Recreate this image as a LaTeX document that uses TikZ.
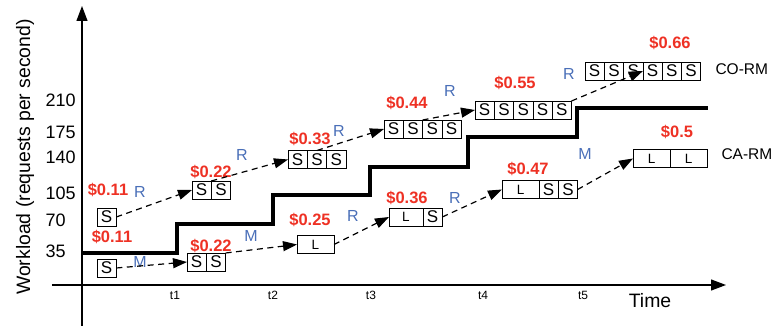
\documentclass[tikz,border=0pt]{standalone}
\usepackage{fontspec}
\setmainfont{Liberation Sans}
\usetikzlibrary{arrows.meta}

\begin{document}
\begin{tikzpicture}[x=1pt, y=1pt,
    scell/.style={draw=black, line width=0.7pt, minimum width=19.3pt, minimum height=18pt,
        inner sep=0pt, outer sep=0pt, anchor=west, font=\fontsize{17}{17}\selectfont},
    lcell/.style={scell, minimum width=37pt, font=\fontsize{13.5}{13.5}\selectfont},
    cost/.style={text=costRed, font=\bfseries\fontsize{16.5}{16.5}\selectfont},
    action/.style={text=actionBlue, font=\fontsize{16}{16}\selectfont},
    hop/.style={line width=1.2pt, dash pattern=on 6pt off 4.5pt, -{Triangle[length=14pt,width=10pt]}},
    axislabel/.style={font=\fontsize{19.4}{19.4}\selectfont},
    ticklabel/.style={font=\fontsize{18}{18}\selectfont, anchor=west},
    tlabel/.style={font=\fontsize{12}{12}\selectfont},
    rowlabel/.style={font=\fontsize{15.5}{15.5}\selectfont, anchor=west}]
    \definecolor{costRed}{HTML}{EE3124}
    \definecolor{actionBlue}{HTML}{4A6FB8}

    \def\cellW{19.3}

    \useasboundingbox (-82,-41) rectangle (692,285);

    % Draw axes
    \draw[line width=1.2pt, -{Triangle[length=15pt,width=11pt]}] (-30,0) -- (644,0);
    \draw[line width=1.2pt, -{Triangle[length=15pt,width=11pt]}] (0,-41) -- (0,279);

    % Label x-axis and y-axis
    \node[axislabel, rotate=90] (ylab) at (-57,128) {Workload (requests per second)};
    \node[axislabel] (xlab) at (568,-16) {Time};
    \foreach \y/\lbl in {34/35, 65/70, 92/105, 128/140, 153/175, 185/210}
        \node[ticklabel] (y\lbl) at (-40,\y) {\lbl};
    \foreach \x [count=\i] in {93,191,289,401,501}
        \node[tlabel] (t\i) at (\x,-10) {t\i};

    % Workload steps
    \draw[line width=3.5pt] (0,32) -| (95,61) -| (191,90) -| (288,118) -| (386,148) -| (495,177) -- (626,177);

    % CO-RM: small instances only
    \foreach \n/\x/\y/\k in {co1/15/68/1, co2/110/95/2, co3/206/125.5/3, co4/302/156/4, co5/393/175/5, co6/503/214/6}
        \foreach \i in {1,...,\k}
            \node[scell] (\n-\i) at ({\x+(\i-1)*\cellW},\y) {S};

    % CA-RM: mix of large and small instances
    \node[scell] (ca1-1) at (15,17) {S};
    \node[scell] (ca2-1) at (105,23) {S};
    \node[scell] (ca2-2) at (ca2-1.east) {S};
    \node[lcell] (ca3-1) at (215,40.5) {L};
    \node[lcell, minimum width=34pt] (ca4-1) at (307,68) {L};
    \node[scell] (ca4-2) at (ca4-1.east) {S};
    \node[lcell] (ca5-1) at (420,95.5) {L};
    \node[scell] (ca5-2) at (ca5-1.east) {S};
    \node[scell] (ca5-3) at (ca5-2.east) {S};
    \node[lcell] (ca6-1) at (551,126.5) {L};
    \node[lcell] (ca6-2) at (ca6-1.east) {L};

    \node[rowlabel] (corm) at (630,216) {CO-RM};
    \node[rowlabel] (carm) at (636,131) {CA-RM};

    % Costs
    \node[cost] (coc1) at (26,95) {\$0.11};
    \node[cost] (coc2) at (129,113) {\$0.22};
    \node[cost] (coc3) at (228,146) {\$0.33};
    \node[cost] (coc4) at (325,182) {\$0.44};
    \node[cost] (coc5) at (433,202) {\$0.55};
    \node[cost] (coc6) at (588,242) {\$0.66};
    \node[cost] (cac1) at (30,48) {\$0.11};
    \node[cost] (cac2) at (129,39) {\$0.22};
    \node[cost] (cac3) at (228,65) {\$0.25};
    \node[cost] (cac4) at (325,87) {\$0.36};
    \node[cost] (cac5) at (446,116) {\$0.47};
    \node[cost] (cac6) at (595,153) {\$0.5};

    % Scaling actions (R = replicate, M = migrate)
    \node[action] (coa1) at (58,93) {R};
    \node[action] (coa2) at (160,130) {R};
    \node[action] (coa3) at (257,154) {R};
    \node[action] (coa4) at (368,194) {R};
    \node[action] (coa5) at (487,211) {R};
    \node[action] (caa1) at (58,23) {M};
    \node[action] (caa2) at (169,49) {M};
    \node[action] (caa3) at (271,69) {R};
    \node[action] (caa4) at (373,87) {R};
    \node[action] (caa5) at (503,131) {M};

    % Transitions
    \draw[hop] (co1-1.east) -- (co2-1.west);
    \draw[hop] (co2-1.north east) -- (co3-1.west);
    \draw[hop] (co3-2.north) -- (co4-1.west);
    \draw[hop] (co4-2.north east) -- (co5-1.west);
    \draw[hop] (co5-5.north east) -- (co6-3.east);
    \draw[hop] (ca1-1.east) -- (ca2-1.west);
    \draw[hop] (ca2-2.north east) -- (ca3-1.west);
    \draw[hop] (ca3-1.east) -- (ca4-1.west);
    \draw[hop] (ca4-2.east) -- (ca5-1.west);
    \draw[hop] (ca5-3.east) -- (ca6-1.west);

\end{tikzpicture}
\end{document}
